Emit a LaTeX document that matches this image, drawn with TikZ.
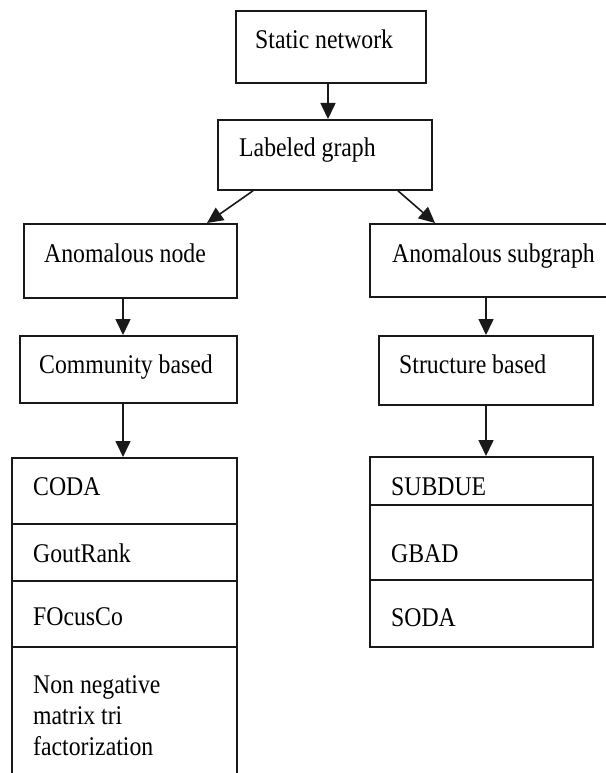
\documentclass[tikz,border=0pt]{standalone}
\usepackage{fontspec}
\setmainfont[FakeStretch=0.88]{Liberation Serif}
\usetikzlibrary{arrows.meta,calc}
\begin{document}
\begin{tikzpicture}[x=1pt,y=-1pt,
  box/.style={draw=black!90,line width=1.8pt,rectangle,inner sep=0pt,anchor=north west},
  lbl/.style={anchor=base west,inner sep=0pt,font=\fontsize{27}{31}\selectfont,align=left},
  arr/.style={draw=black!90,line width=1.6pt,-{Triangle[length=16pt,width=15pt]}}]
\useasboundingbox (0,0) rectangle (605,773);
\fill[white] (0,0) rectangle (605,773);
% boxes
\node[box,minimum width=190pt,minimum height=72pt] (sn) at (235,10) {};
\node[box,minimum width=214pt,minimum height=70pt] (lg) at (217,119) {};
\node[box,minimum width=213pt,minimum height=74pt] (an) at (23,223) {};
\node[box,minimum width=250pt,minimum height=73pt] (as) at (369,223) {};
\node[box,minimum width=217pt,minimum height=67pt] (cb) at (19,335) {};
\node[box,minimum width=214pt,minimum height=69pt] (sb) at (378,335) {};
% left list
\node[box,minimum width=225pt,minimum height=66pt] (l1) at (11,457) {};
\node[box,minimum width=225pt,minimum height=57pt] (l2) at (11,523) {};
\node[box,minimum width=225pt,minimum height=66pt] (l3) at (11,580) {};
\node[box,minimum width=225pt,minimum height=160pt] (l4) at (11,646) {};
% right list
\node[box,minimum width=223pt,minimum height=48pt] (r1) at (369,456) {};
\node[box,minimum width=223pt,minimum height=75pt] (r2) at (369,504) {};
\node[box,minimum width=223pt,minimum height=67pt] (r3) at (369,579) {};
% labels
\node[lbl] (tsn) at (255,49) {Static network};
\node[lbl] (tlg) at (239,157) {Labeled graph};
\node[lbl] (tan) at (44,262) {Anomalous node};
\node[lbl] (tas) at (392,262) {Anomalous subgraph};
\node[lbl] (tcb) at (39,373) {Community based};
\node[lbl] (tsb) at (399,373) {Structure based};
\node[lbl] (t1) at (33,495) {CODA};
\node[lbl] (t2) at (33,562) {GoutRank};
\node[lbl] (t3) at (33,625) {FOcusCo};
\node[lbl] (t4a) at (33,693) {Non negative};
\node[lbl] (t4b) at (33,724) {matrix tri};
\node[lbl] (t4c) at (33,755) {factorization};
\node[lbl] (u1) at (391,495) {SUBDUE};
\node[lbl] (u2) at (391,562) {GBAD};
\node[lbl] (u3) at (391,626) {SODA};
% arrows
\draw[arr] (sn.south -| 328,0) -- (lg.north -| 328,0);
\draw[arr] (lg.south -| 253,0) -- (an.north -| 207,0);
\draw[arr] (lg.south -| 398,0) -- (as.north -| 435,0);
\draw[arr] (an.south -| 123,0) -- (cb.north -| 123,0);
\draw[arr] (as.south -| 486,0) -- (sb.north -| 486,0);
\draw[arr] (cb.south -| 123,0) -- (l1.north -| 123,0);
\draw[arr] (sb.south -| 486,0) -- (r1.north -| 486,0);
\end{tikzpicture}
\end{document}
